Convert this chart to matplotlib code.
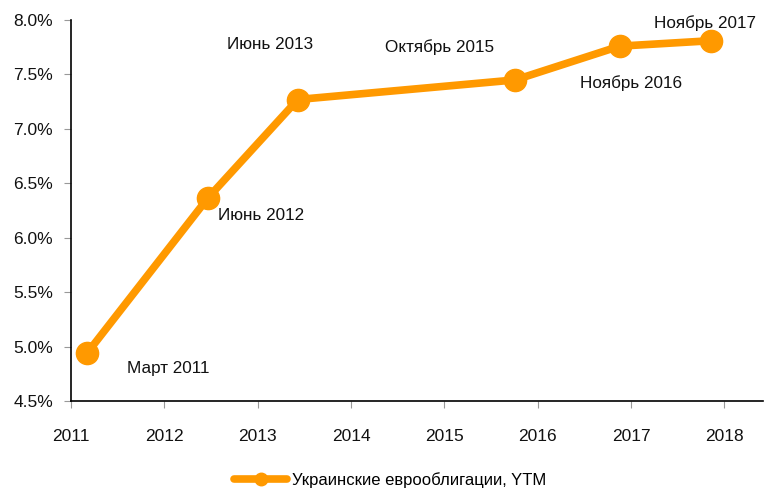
import matplotlib.pyplot as plt
from matplotlib.ticker import FuncFormatter

# даты в долях года и доходность, %
dates = [2011.17, 2012.47, 2013.43, 2015.76, 2016.88, 2017.86]
ytm = [4.94, 6.37, 7.27, 7.45, 7.76, 7.81]
labels = ['Март 2011', 'Июнь 2012', 'Июнь 2013', 'Октябрь 2015', 'Ноябрь 2016', 'Ноябрь 2017']
years = [2011, 2012, 2013, 2014, 2015, 2016, 2017, 2018]
series_name = 'Украинские еврооблигации, YTM'

# смещения подписей в пикселях
offsets = [(81, -15), (53, -18), (-28, 55), (-76, 33), (11, -37), (-6, 18)]

orange = '#FF9900'

fig = plt.figure(figsize=(7.65, 4.88), dpi=100)
ax = fig.add_axes([0.093, 0.178, 0.905, 0.781])

ax.plot(dates, ytm, color=orange, lw=5.5, marker='o', markersize=16,
        solid_capstyle='round', label=series_name, zorder=3)

for x, y, lab, (dx, dy) in zip(dates, ytm, labels, offsets):
    ax.annotate(lab, (x, y), xytext=(dx, dy), textcoords='offset pixels',
                ha='center', va='center', fontsize=12.3,
                family='Liberation Sans', color='#111111')

ax.set_xlim(2011, 2018.42)
ax.set_ylim(4.5, 8.0)
ax.set_xticks(years)
ax.set_yticks([4.5, 5.0, 5.5, 6.0, 6.5, 7.0, 7.5, 8.0])
ax.yaxis.set_major_formatter(FuncFormatter(lambda v, p: f'{v:.1f}%'))

for s in ['top', 'right']:
    ax.spines[s].set_visible(False)
ax.spines['left'].set_linewidth(1.2)
ax.spines['bottom'].set_linewidth(1.2)

ax.tick_params(axis='y', length=5, color='#999999', labelsize=12.5, pad=8)
ax.tick_params(axis='x', length=5, color='#999999', labelsize=12.5, pad=15)
for t in ax.get_yticklabels():
    t.set_family('Liberation Sans')
    t.set_color('#111111')
for t in ax.get_xticklabels():
    t.set_family('Liberation Sans')
    t.set_color('#111111')

leg = fig.legend(loc='lower center', bbox_to_anchor=(0.51, -0.03), frameon=False,
                 handlelength=3.2, handletextpad=0.3,
                 prop={'family': 'Liberation Sans', 'size': 12})
for h in leg.legend_handles:
    h.set_markersize(9)

fig.savefig('out.png', dpi=100)
